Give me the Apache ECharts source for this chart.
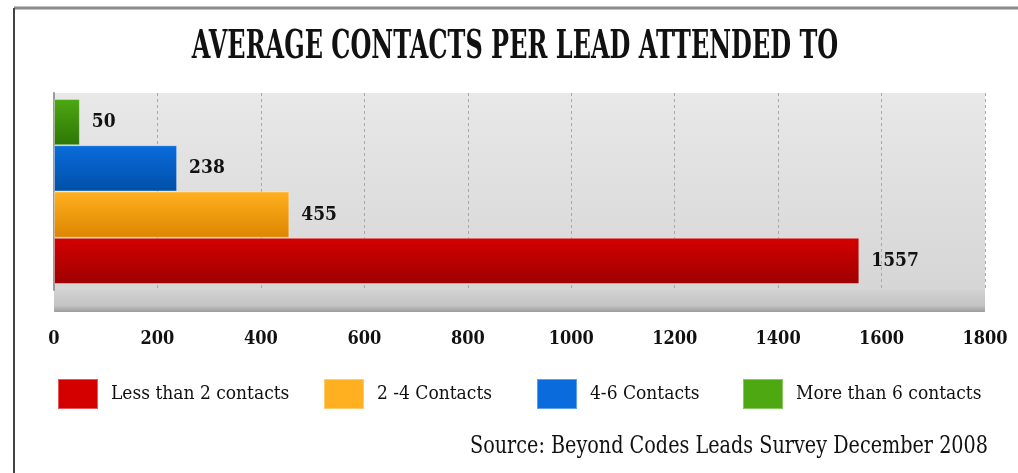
<!DOCTYPE html>
<html>
<head>
<meta charset="utf-8">
<script src="https://cdn.jsdelivr.net/npm/echarts@6/dist/echarts.min.js"></script>
<style>
  html, body { margin: 0; padding: 0; background: #fff; }
  #chart { width: 1018px; height: 473px; }
</style>
</head>
<body>
<div id="chart"></div>
<script>
const seriesNames = ['Less than 2 contacts', '2 -4 Contacts', '4-6 Contacts', 'More than 6 contacts']
const seriesValues = [1557, 455, 238, 50]
const xTicks = [0, 1800, 200] // min, max, interval
const seriesColors = [
  ['#d40000', '#9e0000'],
  ['#ffb020', '#dd8600'],
  ['#0a6cdc', '#0050a6'],
  ['#4ea812', '#2d7606']
]
const legendLeft = [57, 323, 536, 742]

const font = 'DejaVu Serif Condensed'

const myChart = echarts.init(document.getElementById('chart'))

// bars stack top-down in reverse order, so the last series goes first
const series = seriesNames.map(function(name, i) {
  return {
    name: name,
    type: 'bar',
    barGap: '0%',
    barCategoryGap: '6%',
    itemStyle: {
      color: new echarts.graphic.LinearGradient(0, 0, 0, 1, [
        { offset: 0, color: seriesColors[i][0] },
        { offset: 1, color: seriesColors[i][1] }
      ]),
      borderColor: 'rgba(255,255,255,0.35)',
      borderWidth: 1
    },
    label: {
      show: true,
      position: 'right',
      distance: 12,
      color: '#111',
      fontFamily: font,
      fontWeight: 'bold',
      fontSize: 19
    },
    data: [seriesValues[i]]
  }
}).reverse()

const legends = seriesNames.map(function(name, i) {
  return {
    data: [{ name: name, itemStyle: { color: seriesColors[i][0] } }],
    left: legendLeft[i],
    top: 378,
    padding: 0,
    icon: 'rect',
    itemWidth: 40,
    itemHeight: 30,
    itemGap: 0,
    textStyle: {
      color: '#111',
      fontFamily: font,
      fontSize: 19,
      padding: [0, 0, 0, 8]
    }
  }
})

const option = {
  animation: false,
  backgroundColor: '#fff',
  legend: legends,
  grid: {
    show: true,
    left: 54,
    right: 33,
    top: 93,
    bottom: 183,
    borderWidth: 0,
    backgroundColor: new echarts.graphic.LinearGradient(0, 0, 0, 1, [
      { offset: 0, color: '#e8e8e8' },
      { offset: 1, color: '#d6d6d6' }
    ])
  },
  xAxis: {
    type: 'value',
    min: xTicks[0],
    max: xTicks[1],
    interval: xTicks[2],
    axisLine: { show: false },
    axisTick: { show: false },
    splitLine: {
      show: true,
      lineStyle: { color: '#a8a8a8', type: [3, 3], width: 1 }
    },
    axisLabel: {
      margin: 40,
      color: '#111',
      fontFamily: font,
      fontWeight: 'bold',
      fontSize: 18,
      formatter: function(v) { return String(v) }
    }
  },
  yAxis: {
    type: 'category',
    data: [''],
    axisLine: { show: true, lineStyle: { color: '#9a9a9a', width: 2 } },
    axisTick: { show: false },
    axisLabel: { show: false }
  },
  graphic: [
    // floor under the plot
    {
      type: 'rect',
      z: -1,
      shape: { x: 54, y: 290, width: 931, height: 22 },
      style: {
        fill: new echarts.graphic.LinearGradient(0, 0, 0, 1, [
          { offset: 0, color: '#d2d2d2' },
          { offset: 0.7, color: '#c4c4c4' },
          { offset: 1, color: '#9c9c9c' }
        ])
      }
    },
    // frame
    {
      type: 'line',
      shape: { x1: 14, y1: 8, x2: 1018, y2: 8 },
      style: { stroke: '#8a8a8a', lineWidth: 3 }
    },
    {
      type: 'line',
      shape: { x1: 14, y1: 8, x2: 14, y2: 473 },
      style: { stroke: '#444', lineWidth: 2 }
    },
    // title
    {
      type: 'text',
      x: 515,
      y: 48,
      scaleX: 0.6,
      style: {
        text: 'AVERAGE CONTACTS PER LEAD ATTENDED TO',
        x: 0,
        y: 0,
        align: 'center',
        verticalAlign: 'middle',
        font: 'bold 40px "DejaVu Serif"',
        fill: '#111',
        shadowColor: 'rgba(0,0,0,0.35)',
        shadowOffsetX: 2,
        shadowOffsetY: 2,
        shadowBlur: 1
      }
    },
    // source
    {
      type: 'text',
      x: 988,
      y: 447,
      scaleX: 0.8,
      style: {
        text: 'Source: Beyond Codes Leads Survey December 2008',
        x: 0,
        y: 0,
        align: 'right',
        verticalAlign: 'middle',
        fontFamily: 'DejaVu Serif',
        fontSize: 24,
        fill: '#111'
      }
    }
  ],
  series: series
}

myChart.setOption(option)
</script>
</body>
</html>
